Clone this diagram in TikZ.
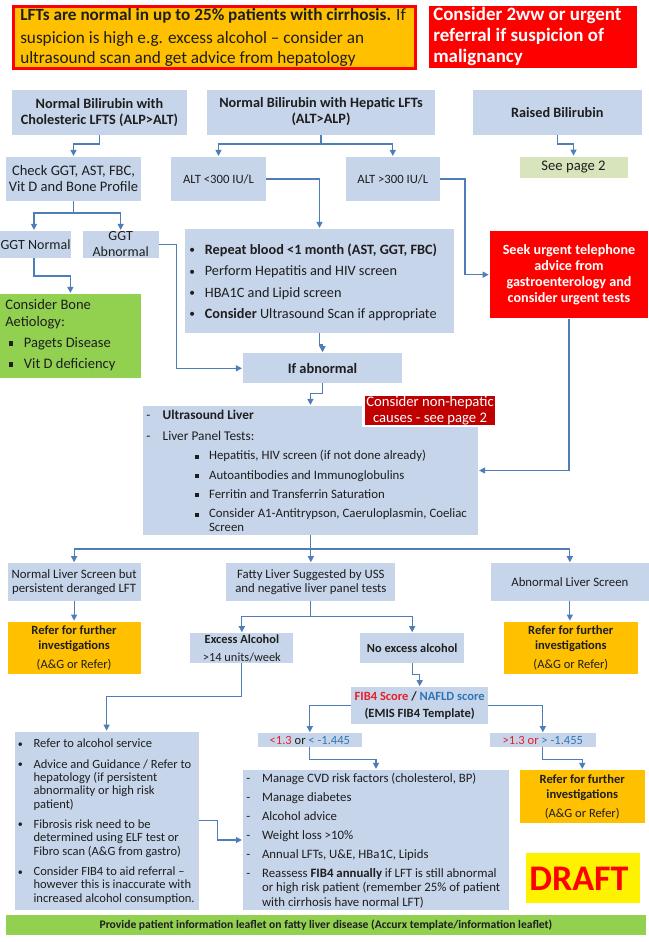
\documentclass[tikz,border=0pt]{standalone}
\usepackage{fontspec}
\setmainfont{Carlito}
\usepackage{tikz}
\usetikzlibrary{arrows.meta}
\usetikzlibrary{fit}

\definecolor{boxblue}{HTML}{C6D5EA}
\definecolor{linkblue}{HTML}{4F7DB8}
\definecolor{gold}{HTML}{FFC000}
\definecolor{leafgreen}{HTML}{92D050}
\definecolor{sagegreen}{HTML}{D8E4BC}
\definecolor{deepred}{HTML}{C00000}
\definecolor{ink}{HTML}{1E1E1E}
\definecolor{fibred}{HTML}{E8202A}
\definecolor{fibblue}{HTML}{2E75B6}

\newcommand{\sqbul}{\rule[0.22ex]{0.3em}{0.3em}}
\newcommand{\fsz}[2]{\fontsize{#1}{#2}\selectfont}
\newcommand{\itemlead}[2]{\makebox[#1][l]{#2}}
\newcommand{\smalldot}{\raisebox{0.1ex}{\scalebox{0.8}{•}}}

\begin{document}
\begin{tikzpicture}[x=0.75pt,y=0.75pt,yscale=-1,xscale=1,
  blok/.style={fill=boxblue,inner sep=0pt,outer sep=0pt},
  goldbox/.style={fill=gold,inner sep=0pt,outer sep=0pt},
  greenbox/.style={fill=leafgreen,inner sep=0pt,outer sep=0pt},
  txt/.style={inner sep=0.75pt,text=ink},
  conn/.style={draw=linkblue,line width=0.9pt,shorten >=0.8pt,-{Triangle[length=4.5pt,width=4.5pt]}}]
\useasboundingbox (0,0) rectangle (649,942);

%Shape: Rectangle [id:note]
\node (note) [fit={(13.5,6.5) (415.5,68.5)},fill=gold,draw=red,line width=2.25pt,inner sep=0pt] {};
%Shape: Rectangle [id:malig]
\node (malig) [fit={(429,6) (637,68)},fill=red,inner sep=0pt] {};

%Shape: Rectangle [id:chol]
\node (chol) [blok,fit={(12,90) (187,135)}] {};
%Shape: Rectangle [id:hep]
\node (hep) [blok,fit={(207,90) (435,135)}] {};
%Shape: Rectangle [id:bili]
\node (bili) [blok,fit={(473,90) (641.5,135)}] {};

%Shape: Rectangle [id:check]
\node (check) [blok,fit={(6,157) (141,201)}] {};
%Shape: Rectangle [id:altlo]
\node (altlo) [blok,fit={(171,157) (266,201)}] {};
%Shape: Rectangle [id:althi]
\node (althi) [blok,fit={(345.6,157) (440,201)}] {};
%Shape: Rectangle [id:page2]
\node (page2) [fill=sagegreen,inner sep=0pt,fit={(519.5,157) (627.5,178)}] {};

%Shape: Rectangle [id:ggtn]
\node (ggtn) [blok,fit={(-3,231) (71,258)}] {};
%Shape: Rectangle [id:ggta]
\node (ggta) [blok,fit={(82.8,231) (158.5,258)}] {};
%Shape: Rectangle [id:bone]
\node (bone) [greenbox,fit={(0,294) (140.7,377.7)}] {};
%Shape: Rectangle [id:recheck]
\node (recheck) [blok,fit={(185,229) (454,333)}] {};
%Shape: Rectangle [id:seek]
\node (seek) [fill=red,inner sep=0pt,fit={(490,231) (648,318.3)}] {};
%Shape: Rectangle [id:ifabn]
\node (ifabn) [blok,fit={(243,353.3) (402,383.3)}] {};

%Shape: Rectangle [id:panel]
\node (panel) [blok,fit={(142.8,406) (478,535)}] {};
%Shape: Rectangle [id:nonhep]
\node (nonhep) [fill=deepred,draw=white,line width=2pt,inner sep=0pt,fit={(363.4,395) (496.7,426)}] {};

%Shape: Rectangle [id:normliv]
\node (normliv) [blok,fit={(7.5,563.3) (140.7,600.7)}] {};
%Shape: Rectangle [id:fatty]
\node (fatty) [blok,fit={(226.4,563.3) (395.3,600.7)}] {};
%Shape: Rectangle [id:abnliv]
\node (abnliv) [blok,fit={(490.7,563.3) (649,600.7)}] {};
%Shape: Rectangle [id:refer1]
\node (refer1) [goldbox,fit={(7.5,621.7) (140.7,674.3)}] {};
%Shape: Rectangle [id:refer2]
\node (refer2) [goldbox,fit={(504,621.7) (637.7,674.3)}] {};
%Shape: Rectangle [id:excess]
\node (excess) [blok,fit={(190.4,633.3) (293.3,663.3)}] {};
%Shape: Rectangle [id:noexc]
\node (noexc) [blok,fit={(360,633.3) (464.4,663.3)}] {};
%Shape: Rectangle [id:fib]
\node (fib) [blok,fit={(351,687.3) (488.4,724)}] {};
%Shape: Rectangle [id:lowcut]
\node (lowcut) [blok,fit={(257.5,733.3) (362.2,746.7)}] {};
%Shape: Rectangle [id:highcut]
\node (highcut) [blok,fit={(489.7,733.3) (596,746.7)}] {};

%Shape: Rectangle [id:alcbox]
\node (alcbox) [blok,fit={(14.5,731.7) (198.7,910)}] {};
%Shape: Rectangle [id:manbox]
\node (manbox) [blok,fit={(243,770) (509,910)}] {};
%Shape: Rectangle [id:refer3]
\node (refer3) [goldbox,fit={(519.5,770) (645,823.3)}] {};
%Shape: Rectangle [id:draft]
\node (draft) [fill=yellow,inner sep=0pt,fit={(525.7,852.7) (639.5,903.3)}] {};
%Shape: Rectangle [id:leaflet]
\node (leaflet) [greenbox,fit={(6.2,915) (645.7,935)}] {};

% Connectors
\draw [conn] (chol.south) -- ++(0,9) -| (check.north);
\draw [conn] (hep.south) -- ++(0,9) -| (altlo.north);
\draw [conn] (hep.south) -- ++(0,9) -| (althi.north);
\draw [conn] (bili.south) -- ++(0,9) -| (page2.north);
\draw [conn] (check.south) -- ++(0,12) -| (ggtn.north);
\draw [conn] (check.south) -- ++(0,12) -| (ggta.north);
\draw [conn] (ggtn.south) -- ++(0,18) -| (bone.north);
\draw [conn] (ggta.east) -- ++(18,0) |- (ifabn.west);
\draw [conn] (altlo.east) -| (recheck.north);
\draw [conn] (althi.east) -- ++(25,0) |- (seek.west);
\draw [conn] (recheck.south) -- ++(0,12) -| (ifabn.north);
\draw [conn] (ifabn.south) -- ++(0,10) -| (panel.north);
\draw [conn] (seek.south) |- (panel.east);
\draw [conn] (panel.south) -- ++(0,14) -| (normliv.north);
\draw [conn] (panel.south) -- ++(0,14) -| (fatty.north);
\draw [conn] (panel.south) -- ++(0,14) -| (abnliv.north);
\draw [conn] (normliv.south) -- (refer1.north);
\draw [conn] (abnliv.south) -- (abnliv.south |- refer2.north);
\draw [conn] (fatty.south) -- ++(0,16) -| (excess.north);
\draw [conn] (fatty.south) -- ++(0,16) -| (noexc.north);
\draw [conn] (excess.south) -- ++(0,33.4) -| (alcbox.north);
\draw [conn] (noexc.south) -- ++(0,11) -| (fib.north);
\draw [conn] (fib.west) -| (lowcut.north);
\draw [conn] (fib.east) -| (highcut.north);
\draw [conn] (lowcut.south) -- ++(0,12.6) -| (manbox.north);
\draw [conn] (highcut.south) -- ++(0,12.6) -| (refer3.north);
\draw [conn] (alcbox.east) -- ++(18.6,0) |- (manbox.west);

% Text Node
\node (txnote) [txt,anchor=west,align=left,font=\fsz{12.9}{15.5}] at (19,37.5) {\textbf{LFTs are normal in up to 25\% patients with cirrhosis.} If\\[1.5pt]suspicion is high e.g. excess alcohol – consider an\\ultrasound scan and get advice from hepatology};
% Text Node
\node (txmalig) [inner sep=0.75pt,text=white,anchor=west,align=left,font=\bfseries\fsz{14.2}{15.75}] at (432,36.5) {Consider 2ww or urgent\\referral if suspicion of\\malignancy};
% Text Node
\node (txchol) [txt,align=center,font=\bfseries\fsz{10.7}{11.5}] at (chol) {Normal Bilirubin with\\Cholesteric LFTS (ALP>ALT)};
% Text Node
\node (txhep) [txt,align=center,font=\bfseries\fsz{10.7}{11.8}] at (321,111.5) {Normal Bilirubin with Hepatic LFTs\\(ALT>ALP)};
% Text Node
\node (txbili) [txt,font=\bfseries\fsz{10.7}{12}] at (bili) {Raised Bilirubin};
% Text Node
\node (txcheck) [txt,align=center,font=\fsz{10.9}{12}] at (check) {Check GGT, AST, FBC,\\Vit D and Bone Profile};
% Text Node
\node (txaltlo) [txt,font=\fsz{9.5}{11}] at (altlo) {ALT <300 IU/L};
% Text Node
\node (txalthi) [txt,font=\fsz{9.5}{11}] at (althi) {ALT >300 IU/L};
% Text Node
\node (txpage2) [txt,font=\fsz{11}{12}] at (page2) {See page 2};
% Text Node
\node (txggtn) [txt,font=\fsz{10.5}{12}] at (35.5,244.5) {GGT Normal};
% Text Node
\node (txggta) [txt,align=center,font=\fsz{10.5}{12}] at (ggta) {GGT\\Abnormal};
% Text Node
\node (txbone) [txt,anchor=west,align=left,font=\fsz{10.9}{12.4}] at (4,335) {Consider Bone\\Aetiology:\\[3.4pt]\itemlead{14pt}{\hspace{2.6pt}\sqbul}Pagets Disease\\[3.4pt]\itemlead{14pt}{\hspace{2.6pt}\sqbul}Vit D deficiency};
% Text Node
\node (txrecheck) [txt,anchor=west,align=left,font=\fsz{10.7}{12}] at (188,282.4) {\itemlead{11.7pt}{\smalldot}\textbf{Repeat blood <1 month (AST, GGT, FBC)}\\[4pt]\itemlead{11.7pt}{\smalldot}Perform Hepatitis and HIV screen\\[4pt]\itemlead{11.7pt}{\smalldot}HBA1C and Lipid screen\\[4pt]\itemlead{11.7pt}{\smalldot}\textbf{Consider} Ultrasound Scan if appropriate};
% Text Node
\node (txseek) [inner sep=0.75pt,text=white,align=center,font=\bfseries\fsz{10.6}{12}] at (seek) {Seek urgent telephone\\advice from\\gastroenterology and\\consider urgent tests};
% Text Node
\node (txifabn) [txt,font=\bfseries\fsz{10.8}{12}] at (ifabn) {If abnormal};
% Text Node
\node (txpanela) [txt,anchor=west,align=left,font=\fsz{10}{15.75}] at (145,425.8) {\itemlead{12.3pt}{-}\textbf{Ultrasound Liver}\\\itemlead{12.3pt}{-}Liver Panel Tests:};
% Text Node
\node (txpanelb) [txt,anchor=west,align=left,font=\fsz{9.6}{10}] at (193.7,491) {\itemlead{10.6pt}{\sqbul}Hepatitis, HIV screen (if not done already)\\[4.5pt]\itemlead{10.6pt}{\sqbul}Autoantibodies and Immunoglobulins\\[4.5pt]\itemlead{10.6pt}{\sqbul}Ferritin and Transferrin Saturation\\[4.5pt]\itemlead{10.6pt}{\sqbul}Consider A1-Antitrypson, Caeruloplasmin, Coeliac\\\hspace*{10.6pt}Screen};
% Text Node
\node (txnonhep) [inner sep=0.75pt,text=white,align=center,font=\fsz{11}{12.2}] at (nonhep) {Consider non-hepatic\\causes - see page 2};
% Text Node
\node (txnormliv) [txt,align=center,font=\fsz{9.6}{10.5}] at (normliv) {Normal Liver Screen but\\persistent deranged LFT};
% Text Node
\node (txfatty) [txt,align=center,font=\fsz{9.6}{10.5}] at (fatty) {Fatty Liver Suggested by USS\\and negative liver panel tests};
% Text Node
\node (txabnliv) [txt,font=\fsz{9.6}{10.5}] at (abnliv) {Abnormal Liver Screen};
% Text Node
\node (txrefer1) [txt,align=center,font=\fsz{9.4}{11.25}] at (refer1) {\textbf{Refer for further}\\\textbf{investigations}\\[3.2pt](A\&G or Refer)};
% Text Node
\node (txrefer2) [txt,align=center,font=\fsz{9.4}{11.25}] at (refer2) {\textbf{Refer for further}\\\textbf{investigations}\\[3.2pt](A\&G or Refer)};
% Text Node
\node (txexcess) [txt,align=center,font=\fsz{9.3}{13.8}] at (241.9,648.5) {\textbf{Excess Alcohol}\\>14 units/week};
% Text Node
\node (txnoexc) [txt,font=\bfseries\fsz{9.3}{11}] at (noexc) {No excess alcohol};
% Text Node
\node (txfib) [txt,align=center,font=\bfseries\fsz{9.4}{13}] at (fib) {\textcolor{fibred}{FIB4 Score} / \textcolor{fibblue}{NAFLD score}\\(EMIS FIB4 Template)};
% Text Node
\node (txlowcut) [txt,font=\fsz{9.4}{11}] at (lowcut) {\textcolor{fibred}{<1.3} or \textcolor{fibblue}{< -1.445}};
% Text Node
\node (txhighcut) [txt,font=\fsz{9.4}{11}] at (highcut) {\textcolor{fibred}{>1.3 or} \textcolor{fibblue}{> -1.455}};
% Text Node
\node (txalc) [txt,anchor=west,align=left,font=\fsz{9.4}{10}] at (16.6,821.7) {\itemlead{11.8pt}{\smalldot}Refer to alcohol service\\[5.3pt]\itemlead{11.8pt}{\smalldot}Advice and Guidance / Refer to\\\hspace*{11.8pt}hepatology (if persistent\\\hspace*{11.8pt}abnormality or high risk\\\hspace*{11.8pt}patient)\\[5.3pt]\itemlead{11.8pt}{\smalldot}Fibrosis risk need to be\\\hspace*{11.8pt}determined using ELF test or\\\hspace*{11.8pt}Fibro scan (A\&G from gastro)\\[5.3pt]\itemlead{11.8pt}{\smalldot}Consider FIB4 to aid referral –\\\hspace*{11.8pt}however this is inaccurate with\\\hspace*{11.8pt}increased alcohol consumption.};
% Text Node
\node (txman) [txt,anchor=west,align=left,font=\fsz{9.6}{10.65}] at (245,840.6) {\itemlead{11.85pt}{-}Manage CVD risk factors (cholesterol, BP)\\[3.6pt]\itemlead{11.85pt}{-}Manage diabetes\\[3.6pt]\itemlead{11.85pt}{-}Alcohol advice\\[3.6pt]\itemlead{11.85pt}{-}Weight loss >10\%\\[3.6pt]\itemlead{11.85pt}{-}Annual LFTs, U\&E, HBa1C, Lipids\\[3.6pt]\itemlead{11.85pt}{-}Reassess \textbf{FIB4 annually} if LFT is still abnormal\\\hspace*{11.85pt}or high risk patient (remember 25\% of patient\\\hspace*{11.85pt}with cirrhosis have normal LFT)};
% Text Node
\node (txrefer3) [txt,align=center,font=\fsz{9.4}{11.25}] at (refer3) {\textbf{Refer for further}\\\textbf{investigations}\\[3.2pt](A\&G or Refer)};
% Text Node
\node (txdraft) [inner sep=0.75pt,text=red,font=\bfseries\fsz{27}{29}] at (579,879) {DRAFT};
% Text Node
\node (txleaflet) [txt,font=\bfseries\fsz{8.7}{10}] at (leaflet) {Provide patient information leaflet on fatty liver disease (Accurx template/information leaflet)};

\end{tikzpicture}
\end{document}
